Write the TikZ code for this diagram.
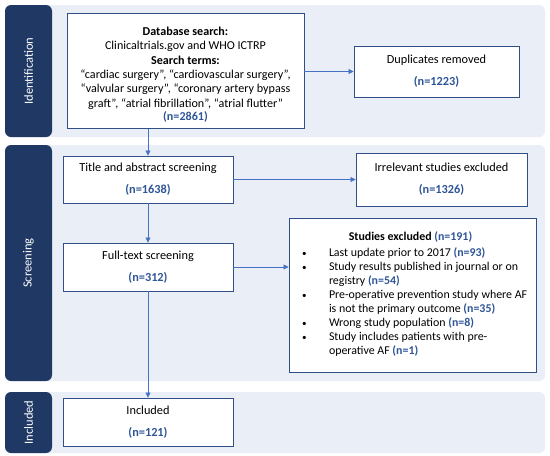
\documentclass[tikz,border=0pt]{standalone}
\usepackage{fontspec}
\setmainfont{Carlito}
\usetikzlibrary{arrows.meta}
\definecolor{navy}{HTML}{203864}
\definecolor{band}{HTML}{E9EEF7}
\definecolor{boxline}{HTML}{2F4F86}
\definecolor{arr}{HTML}{4472C4}
\definecolor{ntxt}{HTML}{2F5597}
\tikzset{
  bandbg/.style={fill=band, draw=none, rounded corners=6pt},
  phase/.style={fill=navy, draw=none, rounded corners=6pt},
  phaselabel/.style={text=white, rotate=90, font=\fontsize{12.5}{14}\selectfont},
  stagebox/.style={draw=boxline, fill=white, line width=0.9pt, align=center, inner sep=2pt, font=\fontsize{12.3}{15}\selectfont},
  flow/.style={draw=arr, line width=0.7pt, -{Triangle[length=5pt,width=5pt]}},
}
\newcommand{\nn}[1]{\textcolor{ntxt}{\textbf{#1}}}
\newcommand{\bul}{\hspace{11pt}{\small\textbullet}}
\begin{document}
\begin{tikzpicture}[x=1pt,y=-1pt]
\useasboundingbox (0,0) rectangle (550,456);
\fill[white] (0,0) rectangle (550,456);
% bands
\fill[bandbg] (8,5) rectangle (545,137);
\fill[bandbg] (8,145) rectangle (545,381);
\fill[bandbg] (8,392) rectangle (545,453);
\fill[phase] (5,5) rectangle (52,137);
\fill[phase] (5,145) rectangle (52,381);
\fill[phase] (5,392) rectangle (52,453);
\node[phaselabel] (lid) at (28.5,71) {Identification};
\node[phaselabel] (lsc) at (28.5,263) {Screening};
\node[phaselabel] (lin) at (28.5,422.5) {Included};
% boxes
\node[stagebox, minimum width=237pt, minimum height=115pt, inner sep=0pt, font=\fontsize{12.1}{14.4}\selectfont] (db) at (185.5,71)
  {\rule{0pt}{16pt}\textbf{Database search:}\\ Clinicaltrials.gov and WHO ICTRP\\ \textbf{Search terms:}\\
   “cardiac surgery”, “cardiovascular surgery”,\\
   “valvular surgery”, “coronary artery bypass\\
   graft”, “atrial fibrillation”, “atrial flutter”\\[-1pt] \nn{(n=2861)}};
\node[stagebox, minimum width=165pt, minimum height=51pt] (dup) at (436.5,71.5)
  {Duplicates removed\\[7pt] \nn{(n=1223)}};
\node[stagebox, minimum width=170pt, minimum height=47pt] (title) at (148,179.5)
  {Title and abstract screening\\[7pt] \nn{(n=1638)}};
\node[stagebox, minimum width=171pt, minimum height=53pt] (irr) at (441.5,179.5)
  {Irrelevant studies excluded\\[7pt] \nn{(n=1326)}};
\node[stagebox, minimum width=170pt, minimum height=48pt] (full) at (148,267)
  {Full-text screening\\[7pt] \nn{(n=312)}};
\node[stagebox, minimum width=247pt, minimum height=154pt, align=left, inner sep=0pt,
      font=\fontsize{11.9}{14}\selectfont] (excl) at (412.5,295)
  {\begin{tabular}{@{}p{38pt}@{}p{205pt}@{}}
   \multicolumn{2}{@{}c@{}}{\hspace{-4pt}\textbf{Studies excluded} \nn{(n=191)}}\\[2pt]
   \bul & Last update prior to 2017 \nn{(n=93)}\\
   \bul & Study results published in journal or on\\
    & registry \nn{(n=54)}\\
   \bul & Pre-operative prevention study where AF\\
    & is not the primary outcome \nn{(n=35)}\\
   \bul & Wrong study population \nn{(n=8)}\\
   \bul & Study includes patients with pre-\\
    & operative AF \nn{(n=1)}
   \end{tabular}};
\node[stagebox, minimum width=170pt, minimum height=48pt] (incl) at (148,422)
  {Included\\[7pt] \nn{(n=121)}};
% connectors
\draw[flow] (db.east |- dup.west) -- (dup.west);
\draw[flow] (db.south -| title.north) -- (title.north);
\draw[flow] (title.east) -- (irr.west);
\draw[flow] (title.south) -- (full.north);
\draw[flow] (full.east) -- (full.east -| excl.west);
\draw[flow] (full.south) -- (incl.north);
\end{tikzpicture}
\end{document}
